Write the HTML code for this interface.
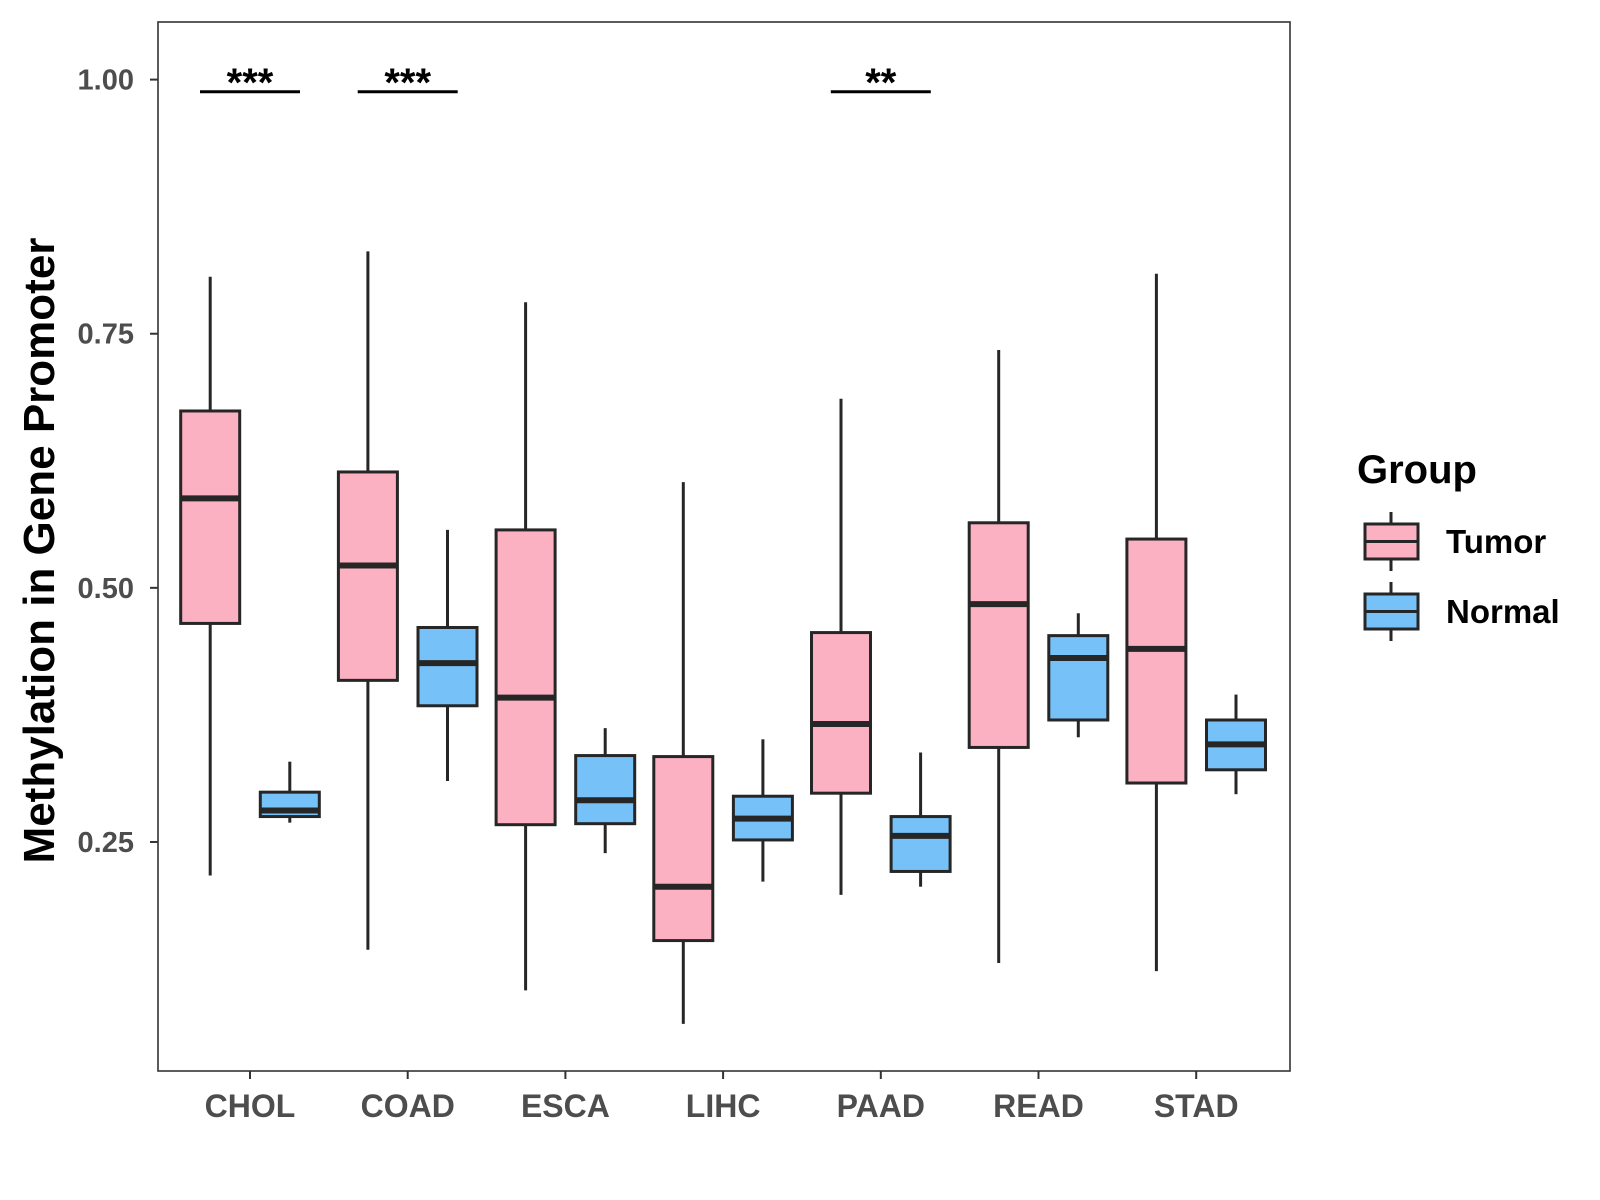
<!DOCTYPE html>
<html><head><meta charset="utf-8"><style>
html,body{margin:0;padding:0;background:#fff;}
svg{display:block;font-family:"Liberation Sans",sans-serif;}
</style></head><body>
<svg id="chart" width="1600" height="1200" viewBox="0 0 1600 1200"></svg>
<script>
const categories=["CHOL","COAD","ESCA","LIHC","PAAD","READ","STAD"];
// [whiskerLow, Q1, median, Q3, whiskerHigh]
const tumorStats=[
[0.217,0.465,0.588,0.674,0.806],
[0.144,0.409,0.522,0.614,0.831],
[0.104,0.267,0.392,0.557,0.781],
[0.071,0.153,0.206,0.334,0.604],
[0.198,0.298,0.366,0.456,0.686],
[0.131,0.343,0.484,0.564,0.734],
[0.123,0.308,0.440,0.548,0.809]];
const normalStats=[
[0.269,0.275,0.281,0.299,0.329],
[0.310,0.384,0.426,0.461,0.557],
[0.239,0.268,0.291,0.335,0.362],
[0.211,0.252,0.273,0.295,0.351],
[0.206,0.221,0.256,0.275,0.338],
[0.353,0.370,0.431,0.453,0.475],
[0.297,0.321,0.346,0.370,0.395]];
const yTicks=[0.25,0.50,0.75,1.00];
const yTickLabels=["0.25","0.50","0.75","1.00"];
const sigCategories=["CHOL","COAD","PAAD"];
const sigLabels=["***","***","**"];

const NS="http://www.w3.org/2000/svg";
const svg=document.getElementById('chart');
const L=158,R=1290,T=22,B=1071;
const y=v=>79.6+(1-v)*1016.5;
const x=i=>250+i*157.7;
const OFF=39.8,BW=59;
function mk(tag,attrs,parent){const e=document.createElementNS(NS,tag);for(const k in attrs)e.setAttribute(k,attrs[k]);(parent||svg).appendChild(e);return e;}

const frame=mk('rect',{x:L,y:T,width:R-L,height:B-T,fill:'none',stroke:'#333',"stroke-width":1.6});



yTicks.forEach((v,i)=>{
  const t=mk('line',{x1:L-8,x2:L,y1:y(v),y2:y(v),stroke:'#333',"stroke-width":2});
  
  
  const tx=mk('text',{x:L-24,y:y(v)+10,"text-anchor":"end","font-size":29,"font-weight":"bold",fill:'#4d4d4d'});
  tx.textContent=yTickLabels[i];
  
  
});
categories.forEach((c,i)=>{
  const t=mk('line',{x1:x(i),x2:x(i),y1:B,y2:B+8,stroke:'#333',"stroke-width":2});
  
  
  const tx=mk('text',{x:x(i),y:B+46,"text-anchor":"middle","font-size":32,"font-weight":"bold",fill:'#4d4d4d'});
  tx.textContent=c;
  
  
});
const yt=mk('text',{x:0,y:0,transform:`translate(54,${(T+B)/2+4}) rotate(-90)`,"text-anchor":"middle","font-size":44,"font-weight":"bold",fill:'#000'});
yt.textContent="Methylation in Gene Promoter";



function box(cx,s,fill,name){
  const g=mk('g',{});
  
  
  mk('line',{x1:cx,x2:cx,y1:y(s[4]),y2:y(s[3]),stroke:'#262626',"stroke-width":3},g);
  mk('line',{x1:cx,x2:cx,y1:y(s[1]),y2:y(s[0]),stroke:'#262626',"stroke-width":3},g);
  mk('rect',{x:cx-BW/2,y:y(s[3]),width:BW,height:y(s[1])-y(s[3]),fill:fill,stroke:'#262626',"stroke-width":3},g);
  mk('line',{x1:cx-BW/2,x2:cx+BW/2,y1:y(s[2]),y2:y(s[2]),stroke:'#262626',"stroke-width":6},g);
}
categories.forEach((c,i)=>{
  box(x(i)-OFF,tumorStats[i],'#fcb1c3','box-tumor-'+c.toLowerCase());
  box(x(i)+OFF,normalStats[i],'#76c1f8','box-normal-'+c.toLowerCase());
});
sigCategories.forEach((c,k)=>{
  const i=categories.indexOf(c);
  const ln=mk('line',{x1:x(i)-50,x2:x(i)+50,y1:y(0.988),y2:y(0.988),stroke:'#000',"stroke-width":3});
  
  
  const tx=mk('text',{x:x(i),y:y(0.988)+4,"text-anchor":"middle","font-size":40,"font-weight":"bold",fill:'#000'});
  tx.textContent=sigLabels[k];
  
  
});
// legend
const lg=mk('g',{});


const lt=mk('text',{x:1357,y:483,"font-size":40,"font-weight":"bold",fill:'#000'},lg);
lt.textContent="Group";


[["Tumor",'#fcb1c3',524],["Normal",'#76c1f8',594]].forEach(([lab,col,ty])=>{
  const e=mk('g',{},lg);
  
  
  mk('line',{x1:1391,x2:1391,y1:ty-12,y2:ty+47,stroke:'#262626',"stroke-width":3},e);
  mk('rect',{x:1365,y:ty,width:53,height:35,fill:col,stroke:'#262626',"stroke-width":3},e);
  mk('line',{x1:1365,x2:1418,y1:ty+17.5,y2:ty+17.5,stroke:'#262626',"stroke-width":3},e);
  const t=mk('text',{x:1446,y:ty+29,"font-size":33,"font-weight":"bold",fill:'#000'},e);
  t.textContent=lab;
});
</script>
</body></html>
